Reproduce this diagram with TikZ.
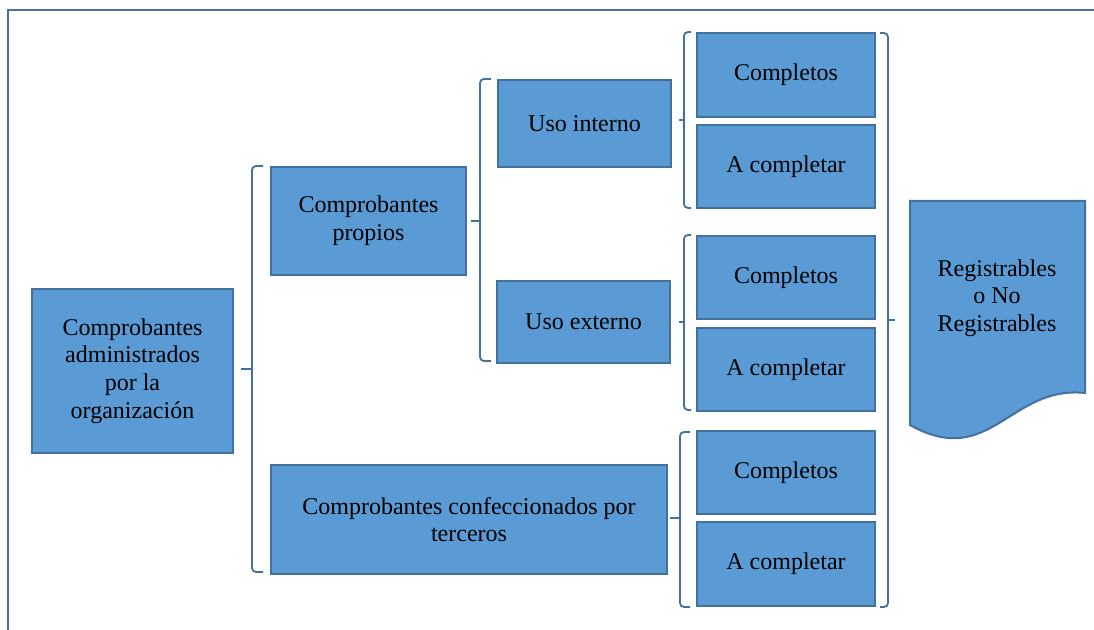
\documentclass[tikz,border=0pt]{standalone}
\usepackage{fontspec}
\setmainfont{Liberation Serif}
\definecolor{boxfill}{HTML}{5B9BD5}
\definecolor{boxline}{HTML}{41719C}
\definecolor{framecol}{HTML}{4472A8}
\begin{document}
\begin{tikzpicture}[x=0.5pt,y=-0.5pt,
  box/.style={draw=boxline,fill=boxfill,line width=1pt,anchor=north west,inner sep=0pt,
    align=center,font=\fontsize{12}{13.8}\selectfont},
  bracket/.style={draw=boxline,line width=0.9pt,rounded corners=2pt},
  tiplin/.style={draw=boxline,line width=0.9pt}]
\useasboundingbox (0,0) rectangle (1094,630);
\draw[framecol,line width=1.4pt] (8,632) -- (8,10) -- (1096,10);

\node[box,minimum width=100.5pt,minimum height=82pt] (root) at (31,288)
  {Comprobantes\\administrados\\por la\\organización};
\node[box,minimum width=97.5pt,minimum height=54pt] (prop) at (270,166)
  {Comprobantes\\propios};
\node[box,minimum width=198pt,minimum height=54.5pt] (terc) at (270,464)
  {Comprobantes confeccionados por\\terceros};
\node[box,minimum width=86.5pt,minimum height=43.5pt] (int) at (497,79) {Uso interno};
\node[box,minimum width=86.5pt,minimum height=41pt] (ext) at (496,280) {Uso externo};
\node[box,minimum width=89pt,minimum height=42pt] (c1) at (696,32) {Completos};
\node[box,minimum width=89pt,minimum height=41.5pt] (a1) at (696,124) {A completar};
\node[box,minimum width=89pt,minimum height=41.5pt] (c2) at (696,235) {Completos};
\node[box,minimum width=89pt,minimum height=41.5pt] (a2) at (696,327) {A completar};
\node[box,minimum width=89pt,minimum height=41.5pt] (c3) at (696,430) {Completos};
\node[box,minimum width=89pt,minimum height=42pt] (a3) at (696,521) {A completar};

% document shape
\draw[draw=boxline,fill=boxfill,line width=1pt]
  (910,201) -- (1085,201) -- (1085,393)
  .. controls (1010,385) and (990,470) .. (910,425) -- cycle;
\node[align=center,font=\fontsize{12}{13.8}\selectfont,inner sep=0pt] (doc) at (997,298)
  {Registrables\\o No\\Registrables};

% brackets
\newcommand\mybrace[6]{%
  \draw[bracket] (#5,#2) -- (#1,#2) -- (#1,#3) -- (#5,#3);
  \draw[tiplin] (#1,#4) -- (#6,#4);}
\mybrace{252}{166}{572}{369}{263}{241}
\mybrace{480}{79}{361}{221}{491}{471}
\mybrace{684}{32}{208}{120}{691}{679}
\mybrace{684}{235}{410}{322}{691}{679}
\mybrace{680}{432}{607}{518}{690}{670}
\mybrace{888}{33}{607}{320}{880}{895}
\end{tikzpicture}
\end{document}
